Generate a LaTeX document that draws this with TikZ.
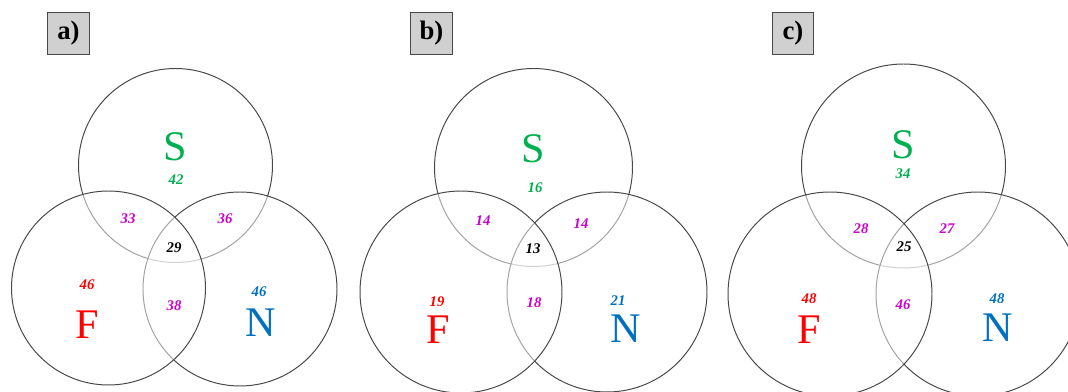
\documentclass[tikz,border=0pt]{standalone}
\usepackage{fontspec}
\setmainfont{Liberation Serif}
\usetikzlibrary{positioning}
\definecolor{sgreen}{RGB}{0,176,80}
\definecolor{fred}{RGB}{255,0,0}
\definecolor{nblue}{RGB}{0,112,192}
\definecolor{ovmag}{RGB}{204,0,204}
\definecolor{ringgray}{RGB}{72,72,72}
\definecolor{tabgray}{RGB}{208,208,208}

\begin{document}
\begin{tikzpicture}[x=0.025cm,y=-0.025cm,
  ring/.style={draw=ringgray,line width=0.7pt,fill=white,fill opacity=0.5},
  big/.style={font=\fontsize{30}{30}\selectfont},
  num/.style={font=\fontsize{10.5}{10.5}\selectfont\bfseries\itshape},
  tag/.style={draw=ringgray,fill=tabgray,line width=0.8pt,inner sep=0pt,
    minimum width=1.03cm,minimum height=1.07cm,font=\fontsize{19}{19}\selectfont\bfseries}]
  \useasboundingbox (0,0) rectangle (1068,392);

  % panel a
  \node[tag] (tagA) at (68.5,33.5) {a)};
  \draw[ring] (175.5,165.5) circle [radius=97];
  \draw[ring] (240,289) circle [radius=97];
  \draw[ring] (108.5,288) circle [radius=97];
  \node[big,text=sgreen] (sA) at (175,147) {S};
  \node[big,text=fred]   (fA) at (87,325) {F};
  \node[big,text=nblue]  (nA) at (261,323) {N};
  \node[num,text=sgreen] (sOnlyA) at (176,180) {42};
  \node[num,text=fred]   (fOnlyA) at (87,285) {46};
  \node[num,text=nblue]  (nOnlyA) at (259,292) {46};
  \node[num,text=ovmag]  (sfA) at (128,219) {33};
  \node[num,text=ovmag]  (snA) at (225,219) {36};
  \node[num,text=ovmag]  (fnA) at (174,306) {38};
  \node[num]             (allA) at (174,248) {29};

  % panel b
  \node[tag] (tagB) at (431.5,33.5) {b)};
  \draw[ring] (533.5,167.5) circle [radius=99];
  \draw[ring] (607,292) circle [radius=100];
  \draw[ring] (461,292) circle [radius=101];
  \node[big,text=sgreen] (sB) at (533,149) {S};
  \node[big,text=fred]   (fB) at (438,330) {F};
  \node[big,text=nblue]  (nB) at (626,329) {N};
  \node[num,text=sgreen] (sOnlyB) at (535,188) {16};
  \node[num,text=fred]   (fOnlyB) at (437,302) {19};
  \node[num,text=nblue]  (nOnlyB) at (618,301) {21};
  \node[num,text=ovmag]  (sfB) at (483,221) {14};
  \node[num,text=ovmag]  (snB) at (581,224) {14};
  \node[num,text=ovmag]  (fnB) at (534,303) {18};
  \node[num]             (allB) at (533,249) {13};

  % panel c
  \node[tag] (tagC) at (793,33.5) {c)};
  \draw[ring] (903.5,166) circle [radius=102];
  \draw[ring] (978,294) circle [radius=102];
  \draw[ring] (830,294) circle [radius=102];
  \node[big,text=sgreen] (sC) at (903,145) {S};
  \node[big,text=fred]   (fC) at (809,330) {F};
  \node[big,text=nblue]  (nC) at (998,328) {N};
  \node[num,text=sgreen] (sOnlyC) at (903,174) {34};
  \node[num,text=fred]   (fOnlyC) at (809,299) {48};
  \node[num,text=nblue]  (nOnlyC) at (997,299) {48};
  \node[num,text=ovmag]  (sfC) at (861,229) {28};
  \node[num,text=ovmag]  (snC) at (947,229) {27};
  \node[num,text=ovmag]  (fnC) at (903,305) {46};
  \node[num]             (allC) at (904,247) {25};
\end{tikzpicture}
\end{document}
